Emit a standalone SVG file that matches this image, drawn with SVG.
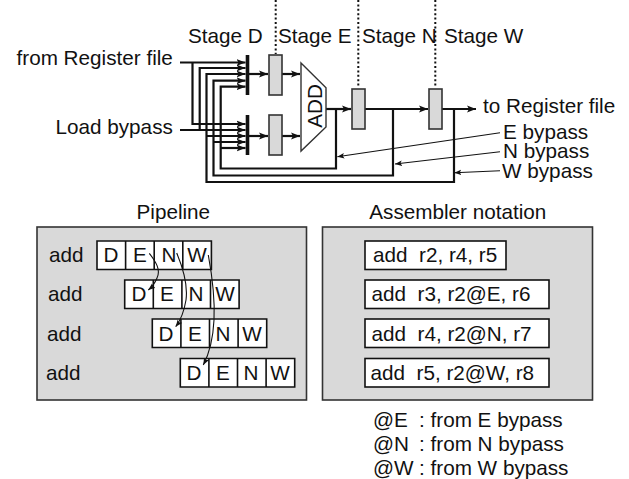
<svg xmlns="http://www.w3.org/2000/svg" width="629" height="479" viewBox="0 0 629 479">
<style>
text{font-family:"Liberation Sans",Arial,sans-serif;font-size:20.7px;fill:#111;white-space:pre}
.m{text-anchor:middle}
.w{fill:none;stroke:#111;stroke-width:2.2}
.t{fill:none;stroke:#111;stroke-width:1.1}
.b{fill:none;stroke:#111;stroke-width:3.6}
.d{fill:none;stroke:#111;stroke-width:2;stroke-dasharray:2 2.4}
.l{fill:#d9d9d9;stroke:#333;stroke-width:1.6}
.p{fill:#d9d9d9;stroke:#333;stroke-width:1.6}
.c{fill:#fff;stroke:#111;stroke-width:1.6}
</style>
<defs>
<marker id="a" markerUnits="userSpaceOnUse" markerWidth="10" markerHeight="8" refX="9" refY="4" orient="auto"><path d="M0 .5L9 4L0 7.500L2 4Z" fill="#111"/></marker>
<marker id="s" markerUnits="userSpaceOnUse" markerWidth="10" markerHeight="8" refX="7" refY="3" orient="auto"><path d="M0 .2L7 3L0 5.800L1.500 3Z" fill="#111"/></marker>
</defs>
<g id="connectors">
<path class="d" d="M275.700 0V54M358.300 0V88M435.300 0V88"/>
<path class="w" d="M180 62.500H245.500" marker-end="url(#a)"/>
<path class="w" d="M192.500 62.500V124H245.500" marker-end="url(#a)"/>
<path class="w" d="M180 130H245.500" marker-end="url(#a)"/>
<path class="w" d="M199.700 130V68H245.500" marker-end="url(#a)"/>
<path class="w" d="M454 109V182H206.500V74H245.500" marker-end="url(#a)"/>
<path class="w" d="M206.500 136H245.500" marker-end="url(#a)"/>
<path class="w" d="M393 109V175.500H213.500V80.700H245.500" marker-end="url(#a)"/>
<path class="w" d="M213.500 142H245.500" marker-end="url(#a)"/>
<path class="w" d="M336 109V168.500H220.700V86.700H245.500" marker-end="url(#a)"/>
<path class="w" d="M220.700 148H245.500" marker-end="url(#a)"/>
<path class="w" d="M247 74H268" marker-end="url(#a)"/>
<path class="w" d="M247 136H268" marker-end="url(#a)"/>
<path class="w" d="M282 74H300" marker-end="url(#a)"/>
<path class="w" d="M282 136H300" marker-end="url(#a)"/>
<path class="w" d="M326 109H351" marker-end="url(#a)"/>
<path class="w" d="M365 109H428" marker-end="url(#a)"/>
<path class="w" d="M442 109H476" marker-end="url(#a)"/>
<path class="b" d="M247.500 55V95M247.500 115V155"/>
<path class="t" d="M500 132.700L337.300 156.700" marker-end="url(#s)"/>
<path class="t" d="M500 151.700L395 164" marker-end="url(#s)"/>
<path class="t" d="M500 170.700L454.300 172.700" marker-end="url(#s)"/>
</g>
<g id="register-d1"><rect class="l" x="269" y="55" width="13" height="40"/></g>
<g id="register-d2"><rect class="l" x="269" y="115" width="13" height="40"/></g>
<g id="register-e"><rect class="l" x="352" y="89" width="13" height="40"/></g>
<g id="register-n"><rect class="l" x="429" y="89" width="13" height="40"/></g>
<g id="adder"><path d="M301 63L326 87.700V127L301 151Z" fill="#fff" stroke="#333" stroke-width="1.4"/><text class="m" transform="translate(321.500 106) rotate(-90)">ADD</text></g>
<g id="labels">
<text x="188" y="43">Stage D</text>
<text x="278" y="43">Stage E</text>
<text x="362" y="43">Stage N</text>
<text x="444" y="43">Stage W</text>
<text x="16.500" y="65">from Register file</text>
<text x="55.500" y="134">Load bypass</text>
<text x="483" y="112.500">to Register file</text>
<text x="503" y="138.500">E bypass</text>
<text x="503" y="158">N bypass</text>
<text x="502" y="177.500">W bypass</text>
<text class="m" x="173.300" y="219.300">Pipeline</text>
<text class="m" x="457.800" y="219.300">Assembler notation</text>
</g>
<g id="pipeline">
<rect class="p" x="37" y="227" width="269.500" height="173"/>
<text x="49" y="262">add</text><text x="48" y="301">add</text><text x="47" y="341">add</text><text x="46" y="380">add</text>
<g id="row1"><path class="c" d="M97 241H211.400V269.500H97ZM125.600 241V269.500M154.200 241V269.500M182.800 241V269.500"/>
<text class="m" x="111" y="262">D</text><text class="m" x="140" y="262">E</text><text class="m" x="169" y="262">N</text><text class="m" x="197" y="262">W</text></g>
<g id="row2"><path class="c" d="M124.700 280H239.100V308.500H124.700ZM153.300 280V308.500M181.900 280V308.500M210.500 280V308.500"/>
<text class="m" x="139" y="301">D</text><text class="m" x="167" y="301">E</text><text class="m" x="196" y="301">N</text><text class="m" x="225" y="301">W</text></g>
<g id="row3"><path class="c" d="M152.300 319H266.700V347.500H152.300ZM180.900 319V347.500M209.500 319V347.500M238.100 319V347.500"/>
<text class="m" x="166" y="341">D</text><text class="m" x="195" y="341">E</text><text class="m" x="223" y="341">N</text><text class="m" x="252" y="341">W</text></g>
<g id="row4"><path class="c" d="M180.300 358.500H294.700V387H180.300ZM208.900 358.500V387M237.500 358.500V387M266.100 358.500V387"/>
<text class="m" x="194" y="380">D</text><text class="m" x="223" y="380">E</text><text class="m" x="251" y="380">N</text><text class="m" x="280" y="380">W</text></g>
<path class="t" d="M149.300 253.300C156 262 161 270 157 278C155 283 152 287 148.300 290" marker-end="url(#s)"/>
<path class="t" d="M176.700 253C183 268 188 285 186 300C184 312 180 321 175.700 326.700" marker-end="url(#s)"/>
<path class="t" d="M208.300 255C212 275 215 300 214 320C213 340 208 356 203.300 365" marker-end="url(#s)"/>
</g>
<g id="assembler">
<rect class="p" x="322.500" y="227" width="270" height="173"/>
<rect class="c" x="365" y="241" width="141" height="28.500"/><text x="373" y="262">add  r2, r4, r5</text>
<rect class="c" x="365" y="280" width="184" height="28.500"/><text x="371.500" y="301">add  r3, r2@E, r6</text>
<rect class="c" x="365" y="319" width="184" height="28.500"/><text x="371.500" y="341">add  r4, r2@N, r7</text>
<rect class="c" x="365" y="358.500" width="184" height="28.500"/><text x="370.500" y="380">add  r5, r2@W, r8</text>
</g>
<g id="legend">
<text x="373" y="427">@E<tspan x="419">: from E bypass</tspan></text>
<text x="373" y="450.500">@N<tspan x="419">: from N bypass</tspan></text>
<text x="373" y="474.500">@W<tspan x="419">: from W bypass</tspan></text>
</g>
</svg>
